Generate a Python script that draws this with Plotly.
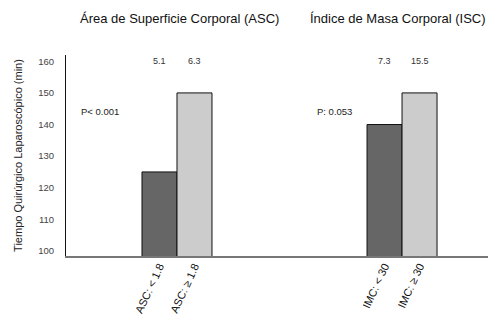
import plotly.graph_objects as go

categories = ["ASC: < 1.8", "ASC: \u2265 1.8", "IMC: < 30", "IMC: \u2265 30"]
values = [125, 150, 140, 150]
sd_labels = ["5.1", "6.3", "7.3", "15.5"]
group_titles = ["\u00c1rea de Superficie Corporal (ASC)", "\u00cdndice de Masa Corporal (ISC)"]
p_values = ["P< 0.001", "P: 0.053"]
y_ticks = [100, 110, 120, 130, 140, 150, 160]

# layout positions (not data)
xpos = [0, 1, 6.43, 7.43]
colors = ["#666666", "#cccccc", "#666666", "#cccccc"]

fig = go.Figure()
fig.add_trace(go.Bar(
    x=xpos, y=values, width=1.0,
    marker=dict(color=colors, line=dict(color="#111111", width=1)),
    base=0, showlegend=False, hoverinfo="skip",
))

font = "Liberation Sans, Arial, sans-serif"
ann = []
for xp, s in zip(xpos, sd_labels):
    ann.append(dict(x=xp, y=160, xref="x", yref="y", text=s, showarrow=False,
                    font=dict(size=9, color="#333333", family=font)))
for xp, t in zip([-1.7, 4.99], p_values):
    ann.append(dict(x=xp, y=144, xref="x", yref="y", text=t, showarrow=False,
                    font=dict(size=9.5, color="#222222", family=font)))
for xpp, t in zip([0.27, 0.787], group_titles):
    ann.append(dict(x=xpp, y=1.18, xref="paper", yref="paper", text=t, showarrow=False,
                    xanchor="center", yanchor="middle",
                    font=dict(size=13, color="#111111", family=font)))

fig.update_layout(
    width=496, height=319,
    margin=dict(l=66, r=8, t=55, b=63),
    paper_bgcolor="white", plot_bgcolor="white",
    font=dict(family=font),
    annotations=ann,
    xaxis=dict(range=[-2.671, 9.386], tickvals=xpos, ticktext=categories,
               tickangle=-65, showgrid=False, zeroline=False, automargin=False,
               showline=True, linecolor="#777777", linewidth=1.5,
               tickfont=dict(size=11, color="#111111"), ticks="", ticklabelstandoff=-2),
    yaxis=dict(range=[98.4, 162.0], tickvals=y_ticks, showgrid=False, zeroline=False,
               showline=True, linecolor="#111111", linewidth=1, automargin=False,
               ticks="", ticklabelstandoff=9,
               tickfont=dict(size=9.5, color="#444444"),
               title=dict(text="Tiempo Quir\u00fargico Laparosc\u00f3pico (min)",
                          font=dict(size=11, color="#222222"), standoff=13)),
)

fig.write_html("out.html", config={"displayModeBar": False},
               post_script="document.body.style.margin='0';document.body.style.overflow='hidden';")
